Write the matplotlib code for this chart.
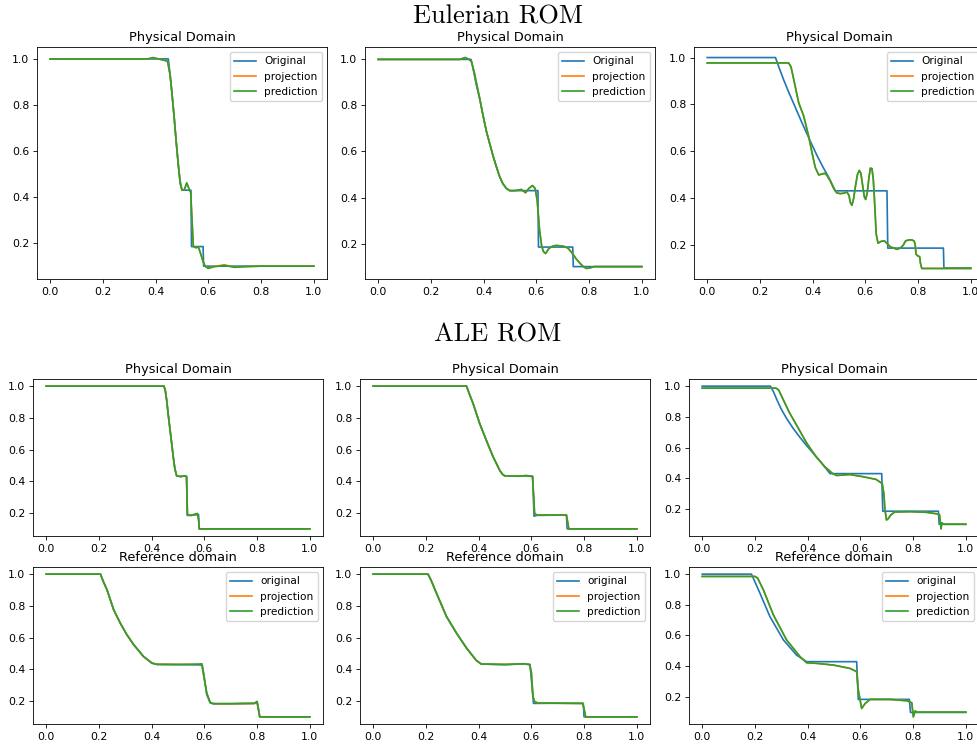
import numpy as np
import matplotlib.pyplot as plt

# ---- data (x, y) ----
# Eulerian ROM, case 1
eul1_orig = [(0, 1.0), (0.448, 1.0), (0.455, 0.93), (0.462, 0.85), (0.47, 0.75), (0.478, 0.64),
             (0.486, 0.54), (0.493, 0.47), (0.50, 0.43), (0.534, 0.43), (0.536, 0.185),
             (0.58, 0.185), (0.582, 0.10), (1.0, 0.10)]
eul1_pred = [(0, 1.0), (0.37, 1.0), (0.39, 1.006), (0.41, 1.0), (0.43, 0.995), (0.445, 0.99),
             (0.455, 0.93), (0.462, 0.85), (0.47, 0.75), (0.478, 0.64), (0.486, 0.54), (0.493, 0.46),
             (0.50, 0.43), (0.508, 0.43), (0.518, 0.462), (0.528, 0.432), (0.533, 0.42), (0.538, 0.30),
             (0.543, 0.186), (0.553, 0.18), (0.562, 0.183), (0.568, 0.164), (0.578, 0.127),
             (0.587, 0.10), (0.60, 0.09), (0.62, 0.097), (0.64, 0.10), (0.66, 0.103), (0.70, 0.095),
             (0.74, 0.098), (0.80, 0.10), (1.0, 0.10)]
eul1_proj = [(0, 1.0), (0.37, 1.0), (0.39, 1.005), (0.41, 1.0), (0.43, 0.995), (0.445, 0.99),
             (0.455, 0.93), (0.462, 0.85), (0.47, 0.75), (0.478, 0.64), (0.486, 0.54), (0.493, 0.46),
             (0.50, 0.43), (0.508, 0.43), (0.518, 0.46), (0.528, 0.432), (0.533, 0.42), (0.538, 0.30),
             (0.543, 0.186), (0.553, 0.18), (0.562, 0.183), (0.568, 0.164), (0.578, 0.127),
             (0.587, 0.10), (0.60, 0.092), (0.62, 0.10), (0.64, 0.102), (0.66, 0.106), (0.70, 0.096),
             (0.74, 0.098), (0.80, 0.10), (1.0, 0.10)]

# Eulerian ROM, case 2
eul2_orig = [(0, 1.0), (0.352, 1.0), (0.36, 0.96), (0.372, 0.89), (0.385, 0.83), (0.398, 0.755),
             (0.411, 0.685), (0.424, 0.63), (0.436, 0.58), (0.448, 0.535), (0.461, 0.49),
             (0.473, 0.46), (0.486, 0.44), (0.499, 0.43), (0.606, 0.43), (0.608, 0.185),
             (0.738, 0.185), (0.74, 0.10), (1.0, 0.10)]
eul2_pred = [(0, 1.0), (0.31, 1.0), (0.33, 1.008), (0.345, 1.0), (0.354, 0.99), (0.365, 0.94),
             (0.385, 0.83), (0.398, 0.755), (0.411, 0.685), (0.424, 0.63), (0.436, 0.58),
             (0.448, 0.535), (0.461, 0.49), (0.473, 0.46), (0.486, 0.44), (0.499, 0.43),
             (0.52, 0.43), (0.543, 0.435), (0.559, 0.421), (0.572, 0.44), (0.585, 0.452),
             (0.595, 0.44), (0.603, 0.389), (0.612, 0.26), (0.62, 0.19), (0.627, 0.165),
             (0.635, 0.157), (0.647, 0.178), (0.66, 0.188), (0.675, 0.192), (0.69, 0.19),
             (0.705, 0.188), (0.72, 0.18), (0.735, 0.16), (0.75, 0.135), (0.765, 0.115),
             (0.778, 0.10), (0.79, 0.092), (0.805, 0.095), (0.82, 0.10), (1.0, 0.10)]
eul2_proj = eul2_pred

# Eulerian ROM, case 3
eul3_orig = [(0, 1.0), (0.259, 1.0), (0.275, 0.95), (0.29, 0.905), (0.31, 0.85), (0.335, 0.785),
             (0.36, 0.72), (0.39, 0.645), (0.417, 0.58), (0.44, 0.53), (0.46, 0.49),
             (0.475, 0.455), (0.486, 0.43), (0.682, 0.43), (0.685, 0.185), (0.896, 0.185),
             (0.898, 0.10), (1.0, 0.10)]
eul3_pred = [(0, 0.977), (0.309, 0.977), (0.318, 0.96), (0.328, 0.908), (0.347, 0.807),
             (0.366, 0.75), (0.385, 0.663), (0.398, 0.591), (0.41, 0.53), (0.423, 0.498),
             (0.436, 0.502), (0.447, 0.505), (0.455, 0.495), (0.468, 0.47), (0.48, 0.44),
             (0.492, 0.421), (0.505, 0.418), (0.518, 0.42), (0.53, 0.425), (0.538, 0.41),
             (0.543, 0.38), (0.549, 0.368), (0.556, 0.40), (0.562, 0.447), (0.57, 0.50),
             (0.577, 0.517), (0.583, 0.505), (0.59, 0.45), (0.596, 0.405), (0.601, 0.393),
             (0.607, 0.42), (0.614, 0.49), (0.619, 0.527), (0.625, 0.525), (0.63, 0.48),
             (0.634, 0.404), (0.641, 0.246), (0.648, 0.206), (0.66, 0.214), (0.672, 0.216),
             (0.684, 0.203), (0.695, 0.19), (0.707, 0.186), (0.718, 0.18), (0.726, 0.182),
             (0.738, 0.19), (0.745, 0.20), (0.752, 0.215), (0.758, 0.218), (0.767, 0.22),
             (0.777, 0.22), (0.785, 0.215), (0.789, 0.20), (0.792, 0.16), (0.797, 0.153),
             (0.806, 0.148), (0.809, 0.12), (0.814, 0.098), (1.0, 0.098)]
eul3_proj = eul3_pred

# ALE ROM, physical domain
alep1_orig = [(0, 1.0), (0.447, 1.0), (0.452, 0.97), (0.457, 0.912), (0.463, 0.82), (0.47, 0.722),
              (0.476, 0.64), (0.482, 0.554), (0.488, 0.48), (0.495, 0.434), (0.51, 0.43),
              (0.528, 0.433), (0.533, 0.43), (0.535, 0.185), (0.55, 0.185), (0.573, 0.19),
              (0.578, 0.19), (0.58, 0.10), (1.0, 0.10)]
alep1_pred = [(0, 1.0), (0.447, 1.0), (0.452, 0.97), (0.457, 0.912), (0.463, 0.82), (0.47, 0.722),
              (0.476, 0.64), (0.482, 0.554), (0.488, 0.48), (0.495, 0.434), (0.51, 0.43),
              (0.528, 0.435), (0.532, 0.43), (0.536, 0.19), (0.55, 0.185), (0.573, 0.197),
              (0.578, 0.16), (0.581, 0.10), (1.0, 0.10)]
alep1_proj = alep1_pred

alep2_orig = [(0, 1.0), (0.354, 1.0), (0.365, 0.95), (0.379, 0.89), (0.404, 0.764), (0.429, 0.659),
              (0.455, 0.554), (0.48, 0.469), (0.49, 0.445), (0.499, 0.434), (0.55, 0.432),
              (0.58, 0.433), (0.605, 0.43), (0.61, 0.18), (0.62, 0.185), (0.733, 0.187),
              (0.736, 0.10), (1.0, 0.10)]
alep2_pred = [(0, 1.0), (0.354, 1.0), (0.365, 0.95), (0.379, 0.89), (0.404, 0.764), (0.429, 0.659),
              (0.455, 0.554), (0.48, 0.469), (0.49, 0.445), (0.499, 0.434), (0.55, 0.432),
              (0.58, 0.436), (0.604, 0.432), (0.609, 0.30), (0.612, 0.20), (0.62, 0.187),
              (0.70, 0.187), (0.733, 0.187), (0.737, 0.15), (0.742, 0.10), (1.0, 0.10)]
alep2_proj = alep2_pred

alep3_orig = [(0, 1.0), (0.259, 1.0), (0.27, 0.965), (0.285, 0.905), (0.30, 0.85), (0.32, 0.79),
              (0.345, 0.725), (0.37, 0.668), (0.395, 0.615), (0.42, 0.565), (0.45, 0.505),
              (0.47, 0.462), (0.485, 0.43), (0.681, 0.43), (0.685, 0.185), (0.896, 0.185),
              (0.899, 0.10), (1.0, 0.10)]
alep3_pred = [(0, 0.987), (0.28, 0.987), (0.29, 0.975), (0.308, 0.91), (0.33, 0.83), (0.36, 0.74),
              (0.396, 0.63), (0.43, 0.545), (0.465, 0.475), (0.495, 0.43), (0.51, 0.418),
              (0.56, 0.424), (0.61, 0.41), (0.66, 0.392), (0.683, 0.365), (0.689, 0.30),
              (0.693, 0.20), (0.699, 0.128), (0.705, 0.135), (0.715, 0.16), (0.73, 0.18),
              (0.79, 0.182), (0.85, 0.178), (0.89, 0.168), (0.90, 0.163), (0.903, 0.12),
              (0.906, 0.07), (0.909, 0.11), (0.915, 0.10), (1.0, 0.10)]
alep3_proj = alep3_pred

# ALE ROM, reference domain
aler1_orig = [(0, 1.0), (0.206, 1.0), (0.215, 0.96), (0.231, 0.90), (0.256, 0.775), (0.281, 0.691),
              (0.306, 0.618), (0.332, 0.555), (0.369, 0.481), (0.401, 0.439), (0.42, 0.431),
              (0.50, 0.43), (0.58, 0.428), (0.592, 0.425), (0.598, 0.37), (0.609, 0.24),
              (0.622, 0.188), (0.634, 0.183), (0.70, 0.183), (0.79, 0.185), (0.80, 0.19),
              (0.805, 0.15), (0.81, 0.10), (1.0, 0.10)]
aler1_pred = [(0, 1.0), (0.206, 1.0), (0.215, 0.96), (0.231, 0.90), (0.256, 0.775), (0.281, 0.691),
              (0.306, 0.618), (0.332, 0.555), (0.369, 0.481), (0.401, 0.439), (0.42, 0.431),
              (0.50, 0.43), (0.58, 0.432), (0.59, 0.435), (0.596, 0.376), (0.609, 0.25),
              (0.622, 0.191), (0.634, 0.183), (0.70, 0.183), (0.79, 0.185), (0.80, 0.197),
              (0.805, 0.15), (0.81, 0.10), (1.0, 0.10)]
aler1_proj = aler1_pred

aler2_orig = [(0, 1.0), (0.208, 1.0), (0.22, 0.96), (0.24, 0.88), (0.278, 0.733), (0.316, 0.628),
              (0.354, 0.534), (0.391, 0.456), (0.41, 0.433), (0.50, 0.43), (0.57, 0.433),
              (0.595, 0.43), (0.602, 0.30), (0.608, 0.185), (0.625, 0.185), (0.70, 0.186),
              (0.797, 0.185), (0.80, 0.10), (1.0, 0.10)]
aler2_pred = [(0, 1.0), (0.208, 1.0), (0.22, 0.96), (0.24, 0.88), (0.278, 0.733), (0.316, 0.628),
              (0.354, 0.534), (0.391, 0.456), (0.41, 0.433), (0.50, 0.43), (0.57, 0.435),
              (0.593, 0.43), (0.60, 0.38), (0.606, 0.229), (0.612, 0.197), (0.625, 0.187),
              (0.70, 0.186), (0.795, 0.185), (0.80, 0.15), (0.806, 0.10), (1.0, 0.10)]
aler2_proj = aler2_pred

aler3_orig = [(0, 1.0), (0.187, 1.0), (0.20, 0.95), (0.219, 0.876), (0.257, 0.723), (0.308, 0.571),
              (0.358, 0.472), (0.396, 0.429), (0.586, 0.429), (0.592, 0.183), (0.786, 0.183),
              (0.79, 0.098), (1.0, 0.098)]
aler3_pred = [(0, 0.985), (0.20, 0.985), (0.21, 0.975), (0.232, 0.898), (0.27, 0.734), (0.32, 0.571),
              (0.371, 0.462), (0.396, 0.422), (0.434, 0.418), (0.497, 0.407), (0.561, 0.385),
              (0.586, 0.364), (0.592, 0.244), (0.605, 0.124), (0.618, 0.156), (0.637, 0.183),
              (0.713, 0.183), (0.776, 0.174), (0.795, 0.161), (0.801, 0.069), (0.808, 0.108),
              (0.814, 0.10), (1.0, 0.10)]
aler3_proj = aler3_pred

ticks = [0.0, 0.2, 0.4, 0.6, 0.8, 1.0]
yticks = [0.2, 0.4, 0.6, 0.8, 1.0]

W, H = 977, 747
fig = plt.figure(figsize=(W / 100, H / 100), dpi=100)


def add_ax(left, top, w, h):
    return fig.add_axes([left / W, 1 - (top + h) / H, w / W, h / H])


def draw(ax, orig, proj, pred, title, labels=None):
    for pts, c in zip([orig, proj, pred], ['tab:blue', 'tab:orange', 'tab:green']):
        a = np.array(pts)
        ax.plot(a[:, 0], a[:, 1], color=c, lw=1.2)
    ax.set_title(title, fontsize=9.3, pad=4.5)
    ax.set_xticks(ticks)
    ax.set_yticks(yticks)
    ax.tick_params(labelsize=7.8, length=2.8, width=0.6, pad=2.8)
    for s in ax.spines.values():
        s.set_linewidth(0.6)
    if labels:
        ax.legend(ax.lines, labels, fontsize=7.6, loc='upper right')


lab_top = ['Original', 'projection', 'prediction']
lab_bot = ['original', 'projection', 'prediction']

# Eulerian row
draw(add_ax(37, 47, 290, 232), eul1_orig, eul1_proj, eul1_pred, 'Physical Domain', lab_top)
draw(add_ax(365, 47, 290, 232), eul2_orig, eul2_proj, eul2_pred, 'Physical Domain', lab_top)
draw(add_ax(694, 47, 290, 232), eul3_orig, eul3_proj, eul3_pred, 'Physical Domain', lab_top)

# ALE rows
draw(add_ax(33, 379, 290, 157), alep1_orig, alep1_proj, alep1_pred, 'Physical Domain')
draw(add_ax(360, 379, 290, 157), alep2_orig, alep2_proj, alep2_pred, 'Physical Domain')
draw(add_ax(689, 379, 290, 157), alep3_orig, alep3_proj, alep3_pred, 'Physical Domain')
draw(add_ax(33, 567, 290, 157), aler1_orig, aler1_proj, aler1_pred, 'Reference domain', lab_bot)
draw(add_ax(360, 567, 290, 157), aler2_orig, aler2_proj, aler2_pred, 'Reference domain', lab_bot)
draw(add_ax(689, 567, 290, 157), aler3_orig, aler3_proj, aler3_pred, 'Reference domain', lab_bot)

fig.text(498 / W, 1 - 17 / H, 'Eulerian ROM', family='cmr10', fontsize=19, ha='center', va='center')
fig.text(498 / W, 1 - 335 / H, 'ALE ROM', family='cmr10', fontsize=19, ha='center', va='center')

fig.savefig('out.png', dpi=100)
